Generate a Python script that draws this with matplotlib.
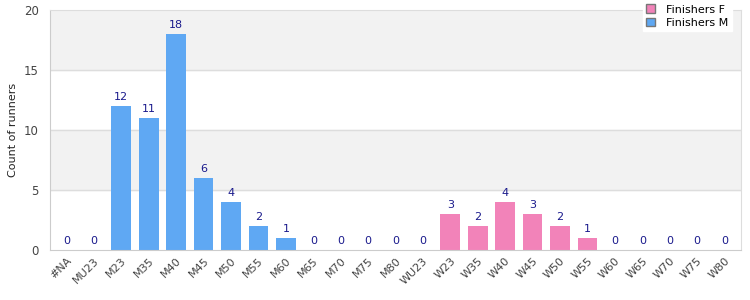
import numpy as np
import matplotlib.pyplot as plt

# data
categories = ['#NA', 'MU23', 'M23', 'M35', 'M40', 'M45', 'M50', 'M55', 'M60', 'M65',
              'M70', 'M75', 'M80', 'WU23', 'W23', 'W35', 'W40', 'W45', 'W50', 'W55',
              'W60', 'W65', 'W70', 'W75', 'W80']
finishers_m = [0, 0, 12, 11, 18, 6, 4, 2, 1, 0, 0, 0, 0, 0]
finishers_f = [3, 2, 4, 3, 2, 1, 0, 0, 0, 0, 0]
y_ticks = [0, 5, 10, 15, 20]

blue = '#5fa8f3'
pink = '#f283b9'
label_col = '#1a1a8c'

fig = plt.figure(figsize=(7.5, 3), dpi=100)
ax = fig.add_axes([0.0667, 0.1667, 0.9213, 0.8])

x = np.arange(len(categories))
xm = x[:len(finishers_m)]
xf = x[len(finishers_m):]

# alternating background bands
for i in range(len(y_ticks) - 1):
    if i % 2 == 1:
        ax.axhspan(y_ticks[i], y_ticks[i + 1], color='#f2f2f2', zorder=0)
for t in y_ticks[1:-1]:
    ax.axhline(t, color='#dddddd', lw=1, zorder=1)

bf = ax.bar(xf, finishers_f, width=0.72, color=pink, label='Finishers F', zorder=2)
bm = ax.bar(xm, finishers_m, width=0.72, color=blue, label='Finishers M', zorder=2)

for xs, vals in ((xm, finishers_m), (xf, finishers_f)):
    for xi, v in zip(xs, vals):
        ax.text(xi, v + 0.35, str(v), ha='center', va='bottom', fontsize=8, color=label_col, zorder=3)

ax.set_xlim(-0.6, len(categories) - 0.4)
ax.set_ylim(0, 20)
ax.set_yticks(y_ticks)
ax.set_xticks(x)
ax.set_xticklabels(categories, rotation=45, ha='right', rotation_mode='anchor', fontsize=8, color='#444444')
ax.tick_params(axis='y', labelsize=8.5, labelcolor='#444444', length=0, pad=8)
ax.tick_params(axis='x', length=0, pad=4)
ax.set_ylabel('Count of runners', fontsize=8, color='#222222')

for s in ax.spines.values():
    s.set_color('#dddddd')
ax.spines['left'].set_color('#cccccc')
ax.spines['bottom'].set_color('#cccccc')

leg = ax.legend(handles=[bf, bm], loc='upper right', bbox_to_anchor=(0.995, 1.06), fontsize=8,
                frameon=True, fancybox=False, edgecolor='white', framealpha=1,
                handlelength=0.8, handleheight=0.8, handletextpad=1.0,
                borderpad=0.3, labelspacing=0.3)
for h in leg.legend_handles:
    h.set_edgecolor('#777777')
    h.set_linewidth(1)
leg.set_zorder(5)

fig.savefig('out.png', dpi=100)
